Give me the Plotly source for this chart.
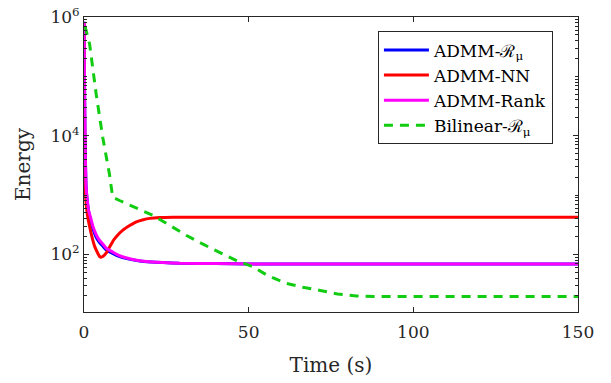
import plotly.graph_objects as go

# ---- data ----
t_blue = [0, 0.3, 0.6, 1, 1.5, 2, 2.7, 3.7, 4.5, 5.7, 6.7, 8.7, 10.8, 13, 16, 19, 24, 29, 40, 50, 150]
e_blue = [8.3e5, 1e4, 1500, 800, 500, 380, 270, 195, 165, 138, 120, 104, 92, 85, 79, 75.5, 73, 71, 70, 69, 69]

t_red = [0, 0.2, 0.45, 1, 1.7, 2.5, 3.2, 4, 4.7, 5.2, 5.8, 6.7, 7.5, 8.3, 9, 10, 11.8, 14, 15.9, 18, 20, 23, 27, 35, 150]
e_red = [8e5, 1e4, 1000, 480, 295, 190, 138, 110, 93, 90, 93, 105, 125, 150, 175, 205, 257, 310, 355, 385, 405, 418, 424, 425, 425]

t_mag = [0, 0.3, 0.6, 1, 1.5, 2, 2.7, 3.7, 4.5, 5.7, 6.7, 8.7, 10.8, 13, 16, 19, 24, 29, 40, 50, 150]
e_mag = [8.3e5, 1e4, 1500, 800, 520, 420, 300, 215, 180, 150, 128, 110, 95, 87, 80, 76, 73, 71, 70, 69, 69]

t_green = [0.3, 1.7, 3.7, 5.7, 7.7, 8.7, 10.8, 15, 20.9, 26, 31, 36, 41, 46, 51.3, 55.5, 61, 66.4, 71.7, 77, 82.7, 88, 150]
e_green = [7e5, 3.5e5, 5e4, 9.3e3, 2.3e3, 925, 810, 640, 455, 310, 210, 150, 110, 80, 62, 45, 33, 28, 24.7, 21.6, 20, 19.5, 19.5]

names = ["ADMM-ℛ<sub>μ</sub>", "ADMM-NN", "ADMM-Rank", "Bilinear-ℛ<sub>μ</sub>"]
x_ticks = [0, 50, 100, 150]
y_major = [1e2, 1e4, 1e6]
y_major_text = ["10<sup>2</sup>", "10<sup>4</sup>", "10<sup>6</sup>"]

FONT = "DejaVu Serif"
AX = "#262626"

fig = go.Figure()
fig.add_trace(go.Scatter(x=t_blue, y=e_blue, mode="lines", name=names[0],
                         line=dict(color="#0000FF", width=3, shape="spline", smoothing=0.4)))
fig.add_trace(go.Scatter(x=t_red, y=e_red, mode="lines", name=names[1],
                         line=dict(color="#FF0000", width=3, shape="spline", smoothing=0.4)))
fig.add_trace(go.Scatter(x=t_mag, y=e_mag, mode="lines", name=names[2],
                         line=dict(color="#FF00FF", width=3, shape="spline", smoothing=0.4)))
fig.add_trace(go.Scatter(x=t_green, y=e_green, mode="lines", name=names[3],
                         line=dict(color="#11CC11", width=3, dash="9px,7px")))

minor_vals = []
for d in range(1, 6):
    for k in range(1, 10):
        v = k * 10 ** d
        if v not in y_major:
            minor_vals.append(v)

fig.update_layout(
    width=611, height=383,
    margin=dict(l=84, r=33, t=17, b=71, autoexpand=False),
    paper_bgcolor="white", plot_bgcolor="white",
    font=dict(family=FONT, size=17, color=AX),
    showlegend=True,
    legend=dict(x=0.595, y=0.951, xanchor="left", yanchor="top",
                bgcolor="white", bordercolor=AX, borderwidth=1,
                font=dict(family=FONT, size=17, color="#000000"),
                tracegroupgap=0, itemwidth=45),
    xaxis=dict(range=[0, 150], tickvals=x_ticks, ticks="inside", ticklen=5, tickcolor=AX,
               showline=True, linecolor=AX, linewidth=1, mirror="ticks", showgrid=False,
               zeroline=False, automargin=False, title=dict(text="Time (s)", standoff=16),
               tickfont=dict(size=17), ticklabelstandoff=5),
    yaxis=dict(type="log", range=[1.03, 6], tickvals=y_major, ticktext=y_major_text,
               ticks="inside", ticklen=5, tickcolor=AX,
               showline=True, linecolor=AX, linewidth=1, mirror="ticks", showgrid=False,
               zeroline=False, automargin=False, title=dict(text="Energy", standoff=14),
               tickfont=dict(size=17),
               minor=dict(tickvals=minor_vals, ticks="inside", ticklen=3, tickcolor=AX, showgrid=False)),
)

fig.write_html("out.html", post_script="document.body.style.margin='0px';",
               config={"displayModeBar": False})
